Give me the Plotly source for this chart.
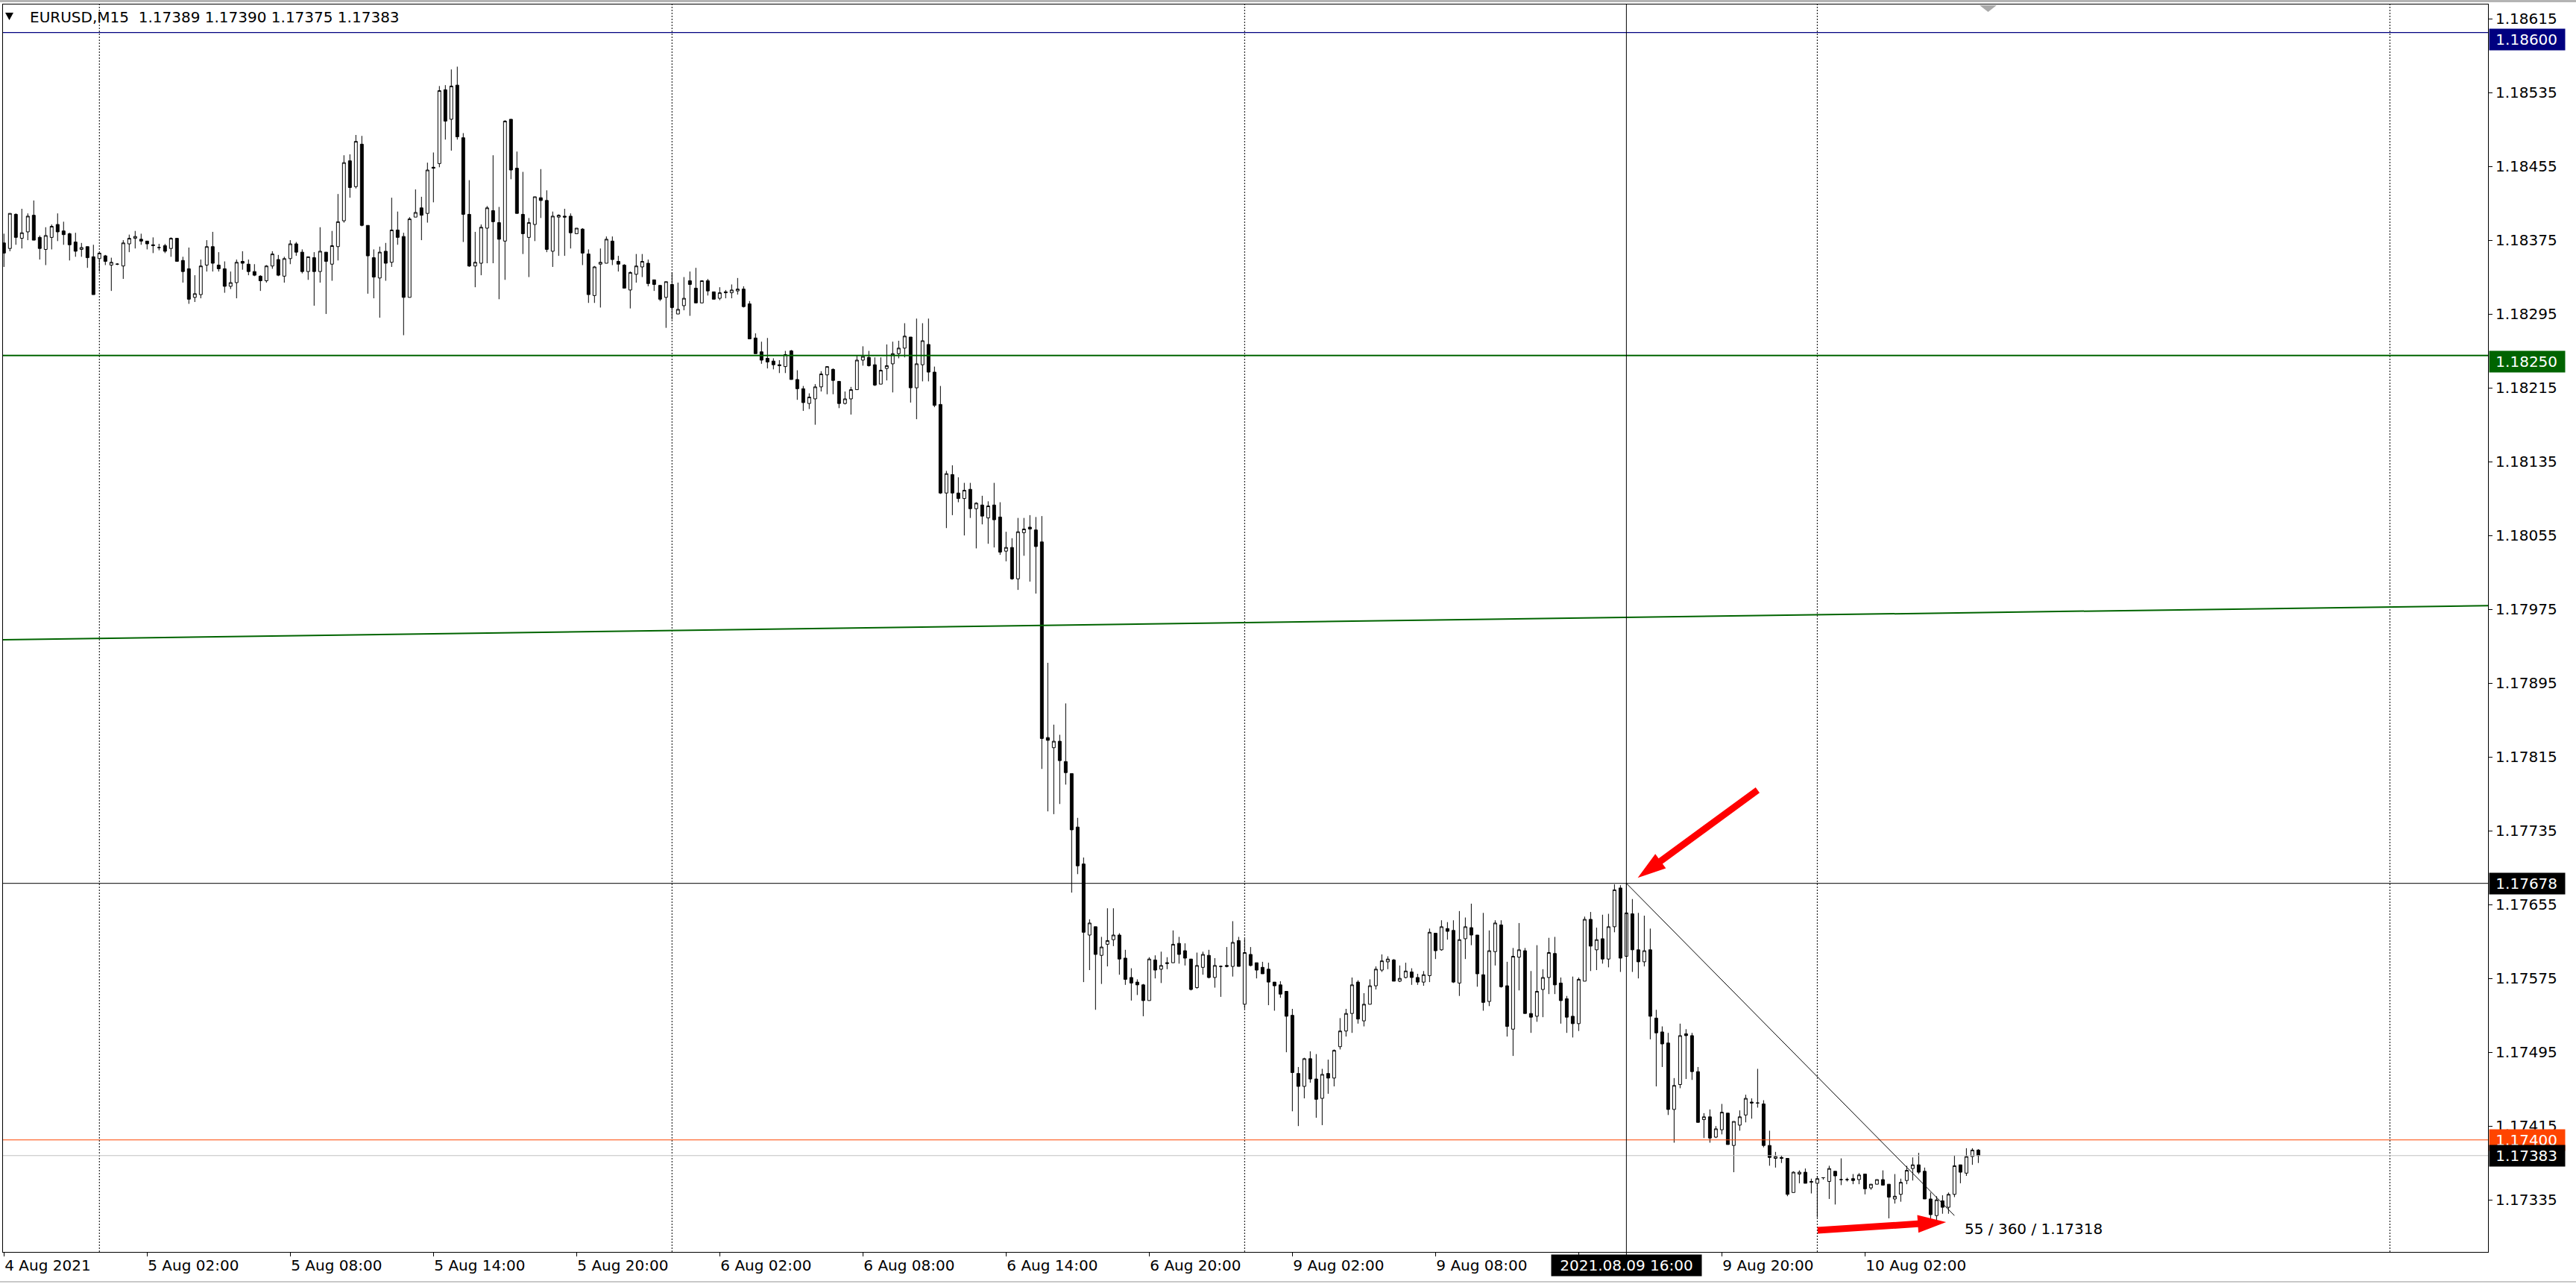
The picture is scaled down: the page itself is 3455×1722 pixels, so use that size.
import math
import plotly.graph_objects as go

# ------------------------------------------------------------------ data
# EURUSD M15 bars, 4 Aug 2021 20:00 .. 10 Aug 2021 06:45 (weekend removed)
opens = [
    1.18372, 1.18366, 1.18403, 1.18377, 1.18384, 1.18402, 1.18378, 1.18365, 1.18378, 1.18392, 1.18385, 1.18382, 1.18373, 1.18365, 1.18368, 1.18357,
    1.18355, 1.18358, 1.18348, 1.18349, 1.18347, 1.18371, 1.18377, 1.18376, 1.18374, 1.18370, 1.18367, 1.18369, 1.18366, 1.18377, 1.18353, 1.18344,
    1.18313, 1.18316, 1.18348, 1.18368, 1.18348, 1.18344, 1.18325, 1.18329, 1.18352, 1.18349, 1.18341, 1.18336, 1.18331, 1.18347, 1.18354, 1.18336,
    1.18355, 1.18371, 1.18362, 1.18341, 1.18356, 1.18341, 1.18362, 1.18349, 1.18368, 1.18396, 1.18461, 1.18433, 1.18479, 1.18391, 1.18356, 1.18334,
    1.18363, 1.18351, 1.18386, 1.18379, 1.18313, 1.18400, 1.18410, 1.18404, 1.18454, 1.18458, 1.18538, 1.18506, 1.18543, 1.18486, 1.18403, 1.18347,
    1.18350, 1.18388, 1.18407, 1.18394, 1.18374, 1.18506, 1.18453, 1.18403, 1.18378, 1.18392, 1.18421, 1.18418, 1.18363, 1.18400, 1.18401, 1.18401,
    1.18382, 1.18387, 1.18360, 1.18315, 1.18349, 1.18350, 1.18374, 1.18352, 1.18348, 1.18321, 1.18338, 1.18346, 1.18350, 1.18332, 1.18326, 1.18313,
    1.18327, 1.18295, 1.18304, 1.18331, 1.18323, 1.18307, 1.18331, 1.18319, 1.18312, 1.18319, 1.18318, 1.18320, 1.18322, 1.18306, 1.18269, 1.18254,
    1.18247, 1.18244, 1.18240, 1.18238, 1.18255, 1.18224, 1.18214, 1.18198, 1.18203, 1.18216, 1.18229, 1.18235, 1.18222, 1.18198, 1.18203, 1.18213,
    1.18245, 1.18248, 1.18240, 1.18219, 1.18236, 1.18241, 1.18252, 1.18258, 1.18270, 1.18215, 1.18240, 1.18262, 1.18232, 1.18197, 1.18101, 1.18121,
    1.18101, 1.18095, 1.18105, 1.18084, 1.18088, 1.18074, 1.18088, 1.18075, 1.18038, 1.18042, 1.18008, 1.18058, 1.18064, 1.18061, 1.18048, 1.17836,
    1.17825, 1.17832, 1.17810, 1.17797, 1.17739, 1.17699, 1.17622, 1.17631, 1.17600, 1.17612, 1.17617, 1.17622, 1.17597, 1.17576, 1.17571, 1.17568,
    1.17551, 1.17595, 1.17585, 1.17591, 1.17592, 1.17613, 1.17605, 1.17596, 1.17565, 1.17587, 1.17600, 1.17576, 1.17588, 1.17589, 1.17588, 1.17616,
    1.17547, 1.17601, 1.17592, 1.17587, 1.17585, 1.17571, 1.17568, 1.17561, 1.17535, 1.17472, 1.17458, 1.17488, 1.17466, 1.17445, 1.17472, 1.17467,
    1.17501, 1.17518, 1.17537, 1.17571, 1.17529, 1.17547, 1.17567, 1.17584, 1.17593, 1.17595, 1.17572, 1.17576, 1.17582, 1.17576, 1.17571, 1.17578,
    1.17624, 1.17606, 1.17629, 1.17627, 1.17570, 1.17618, 1.17630, 1.17622, 1.17579, 1.17550, 1.17604, 1.17633, 1.17567, 1.17520, 1.17598, 1.17605,
    1.17537, 1.17534, 1.17563, 1.17576, 1.17602, 1.17570, 1.17553, 1.17534, 1.17526, 1.17572, 1.17639, 1.17606, 1.17618, 1.17596, 1.17631, 1.17673,
    1.17599, 1.17645, 1.17606, 1.17593, 1.17606, 1.17532, 1.17517, 1.17505, 1.17433, 1.17460, 1.17515, 1.17513, 1.17474, 1.17422, 1.17425, 1.17403,
    1.17411, 1.17429, 1.17394, 1.17416, 1.17427, 1.17441, 1.17440, 1.17439, 1.17394, 1.17380, 1.17381, 1.17380, 1.17343, 1.17363, 1.17365, 1.17354,
    1.17353, 1.17359, 1.17355, 1.17366, 1.17357, 1.17357, 1.17358, 1.17357, 1.17363, 1.17348, 1.17352, 1.17357, 1.17352, 1.17336, 1.17341, 1.17356,
    1.17369, 1.17373, 1.17366, 1.17336, 1.17318, 1.17334, 1.17327, 1.17341, 1.17373, 1.17364, 1.17382, 1.17389,
]
highs = [
    1.18382, 1.18404, 1.18404, 1.18409, 1.18404, 1.18418, 1.18380, 1.18389, 1.18392, 1.18404, 1.18395, 1.18383, 1.18383, 1.18372, 1.18368, 1.18370,
    1.18361, 1.18359, 1.18356, 1.18350, 1.18375, 1.18381, 1.18385, 1.18382, 1.18374, 1.18378, 1.18371, 1.18371, 1.18378, 1.18377, 1.18357, 1.18367,
    1.18337, 1.18354, 1.18375, 1.18384, 1.18362, 1.18352, 1.18341, 1.18354, 1.18363, 1.18354, 1.18349, 1.18337, 1.18348, 1.18363, 1.18359, 1.18357,
    1.18375, 1.18373, 1.18365, 1.18357, 1.18362, 1.18389, 1.18362, 1.18385, 1.18425, 1.18467, 1.18468, 1.18489, 1.18488, 1.18391, 1.18365, 1.18368,
    1.18372, 1.18421, 1.18406, 1.18383, 1.18400, 1.18430, 1.18422, 1.18459, 1.18470, 1.18542, 1.18543, 1.18560, 1.18563, 1.18491, 1.18440, 1.18384,
    1.18392, 1.18412, 1.18467, 1.18411, 1.18505, 1.18506, 1.18471, 1.18449, 1.18399, 1.18422, 1.18452, 1.18429, 1.18406, 1.18403, 1.18409, 1.18404,
    1.18388, 1.18388, 1.18365, 1.18347, 1.18366, 1.18379, 1.18379, 1.18358, 1.18349, 1.18341, 1.18360, 1.18360, 1.18354, 1.18332, 1.18326, 1.18330,
    1.18340, 1.18329, 1.18335, 1.18341, 1.18345, 1.18331, 1.18333, 1.18319, 1.18324, 1.18321, 1.18327, 1.18334, 1.18325, 1.18309, 1.18274, 1.18265,
    1.18269, 1.18247, 1.18245, 1.18255, 1.18256, 1.18234, 1.18217, 1.18209, 1.18219, 1.18233, 1.18238, 1.18236, 1.18222, 1.18211, 1.18216, 1.18250,
    1.18260, 1.18255, 1.18248, 1.18248, 1.18262, 1.18265, 1.18266, 1.18285, 1.18270, 1.18290, 1.18285, 1.18290, 1.18238, 1.18217, 1.18125, 1.18131,
    1.18118, 1.18112, 1.18112, 1.18091, 1.18098, 1.18092, 1.18112, 1.18091, 1.18059, 1.18052, 1.18074, 1.18074, 1.18077, 1.18075, 1.18076, 1.17917,
    1.17850, 1.17839, 1.17873, 1.17797, 1.17749, 1.17706, 1.17639, 1.17631, 1.17620, 1.17651, 1.17651, 1.17624, 1.17606, 1.17586, 1.17574, 1.17569,
    1.17598, 1.17600, 1.17604, 1.17598, 1.17627, 1.17620, 1.17613, 1.17596, 1.17603, 1.17604, 1.17606, 1.17597, 1.17589, 1.17609, 1.17637, 1.17620,
    1.17618, 1.17609, 1.17592, 1.17593, 1.17592, 1.17571, 1.17572, 1.17561, 1.17542, 1.17479, 1.17489, 1.17496, 1.17493, 1.17477, 1.17487, 1.17498,
    1.17532, 1.17542, 1.17576, 1.17573, 1.17559, 1.17574, 1.17588, 1.17601, 1.17599, 1.17596, 1.17589, 1.17592, 1.17586, 1.17580, 1.17583, 1.17629,
    1.17624, 1.17638, 1.17636, 1.17638, 1.17648, 1.17641, 1.17656, 1.17622, 1.17646, 1.17627, 1.17638, 1.17638, 1.17593, 1.17608, 1.17635, 1.17608,
    1.17583, 1.17611, 1.17585, 1.17619, 1.17620, 1.17576, 1.17556, 1.17577, 1.17576, 1.17642, 1.17647, 1.17630, 1.17644, 1.17645, 1.17677, 1.17676,
    1.17678, 1.17661, 1.17646, 1.17643, 1.17629, 1.17541, 1.17523, 1.17516, 1.17467, 1.17526, 1.17520, 1.17516, 1.17479, 1.17429, 1.17433, 1.17415,
    1.17439, 1.17429, 1.17420, 1.17432, 1.17449, 1.17445, 1.17477, 1.17443, 1.17410, 1.17387, 1.17383, 1.17380, 1.17366, 1.17367, 1.17369, 1.17358,
    1.17361, 1.17359, 1.17372, 1.17366, 1.17380, 1.17359, 1.17363, 1.17364, 1.17363, 1.17352, 1.17357, 1.17367, 1.17352, 1.17363, 1.17358, 1.17372,
    1.17381, 1.17386, 1.17370, 1.17343, 1.17339, 1.17340, 1.17343, 1.17383, 1.17373, 1.17391, 1.17391, 1.17390,
]
lows = [
    1.18346, 1.18363, 1.18370, 1.18366, 1.18375, 1.18375, 1.18354, 1.18348, 1.18365, 1.18374, 1.18370, 1.18353, 1.18357, 1.18357, 1.18345, 1.18316,
    1.18341, 1.18348, 1.18320, 1.18348, 1.18333, 1.18362, 1.18366, 1.18370, 1.18365, 1.18361, 1.18364, 1.18361, 1.18357, 1.18352, 1.18329, 1.18306,
    1.18308, 1.18312, 1.18341, 1.18341, 1.18341, 1.18318, 1.18322, 1.18312, 1.18343, 1.18337, 1.18336, 1.18320, 1.18329, 1.18344, 1.18336, 1.18329,
    1.18349, 1.18358, 1.18339, 1.18332, 1.18304, 1.18329, 1.18295, 1.18331, 1.18353, 1.18394, 1.18421, 1.18431, 1.18390, 1.18317, 1.18312, 1.18291,
    1.18331, 1.18346, 1.18370, 1.18272, 1.18313, 1.18400, 1.18375, 1.18394, 1.18416, 1.18454, 1.18484, 1.18472, 1.18484, 1.18373, 1.18346, 1.18324,
    1.18337, 1.18350, 1.18350, 1.18311, 1.18332, 1.18441, 1.18404, 1.18360, 1.18335, 1.18374, 1.18399, 1.18362, 1.18346, 1.18358, 1.18358, 1.18366,
    1.18382, 1.18348, 1.18307, 1.18307, 1.18302, 1.18350, 1.18348, 1.18341, 1.18323, 1.18301, 1.18329, 1.18335, 1.18325, 1.18320, 1.18309, 1.18280,
    1.18289, 1.18295, 1.18299, 1.18293, 1.18307, 1.18307, 1.18315, 1.18311, 1.18310, 1.18312, 1.18312, 1.18316, 1.18302, 1.18268, 1.18252, 1.18241,
    1.18236, 1.18235, 1.18231, 1.18231, 1.18224, 1.18202, 1.18190, 1.18192, 1.18175, 1.18211, 1.18208, 1.18208, 1.18193, 1.18197, 1.18186, 1.18213,
    1.18239, 1.18238, 1.18217, 1.18219, 1.18223, 1.18210, 1.18247, 1.18248, 1.18199, 1.18181, 1.18222, 1.18222, 1.18194, 1.18100, 1.18063, 1.18077,
    1.18091, 1.18055, 1.18074, 1.18041, 1.18067, 1.18046, 1.18042, 1.18034, 1.18027, 1.18007, 1.17996, 1.18033, 1.18005, 1.17992, 1.17802, 1.17756,
    1.17753, 1.17764, 1.17785, 1.17668, 1.17688, 1.17571, 1.17584, 1.17541, 1.17569, 1.17588, 1.17610, 1.17579, 1.17568, 1.17551, 1.17557, 1.17534,
    1.17551, 1.17575, 1.17570, 1.17585, 1.17592, 1.17591, 1.17589, 1.17562, 1.17564, 1.17579, 1.17575, 1.17565, 1.17555, 1.17587, 1.17577, 1.17588,
    1.17542, 1.17588, 1.17575, 1.17580, 1.17546, 1.17540, 1.17554, 1.17495, 1.17431, 1.17415, 1.17445, 1.17462, 1.17424, 1.17416, 1.17450, 1.17458,
    1.17498, 1.17512, 1.17516, 1.17526, 1.17523, 1.17547, 1.17563, 1.17582, 1.17585, 1.17572, 1.17571, 1.17575, 1.17568, 1.17568, 1.17567, 1.17571,
    1.17596, 1.17605, 1.17617, 1.17570, 1.17556, 1.17596, 1.17611, 1.17566, 1.17540, 1.17545, 1.17589, 1.17565, 1.17512, 1.17491, 1.17562, 1.17537,
    1.17516, 1.17528, 1.17533, 1.17558, 1.17558, 1.17526, 1.17516, 1.17511, 1.17518, 1.17572, 1.17583, 1.17584, 1.17591, 1.17587, 1.17625, 1.17582,
    1.17599, 1.17582, 1.17575, 1.17588, 1.17509, 1.17458, 1.17479, 1.17427, 1.17397, 1.17456, 1.17466, 1.17465, 1.17419, 1.17402, 1.17397, 1.17402,
    1.17406, 1.17395, 1.17365, 1.17410, 1.17419, 1.17423, 1.17435, 1.17392, 1.17372, 1.17370, 1.17375, 1.17339, 1.17343, 1.17353, 1.17353, 1.17342,
    1.17316, 1.17357, 1.17336, 1.17330, 1.17351, 1.17355, 1.17352, 1.17352, 1.17341, 1.17346, 1.17352, 1.17351, 1.17315, 1.17331, 1.17333, 1.17352,
    1.17356, 1.17363, 1.17336, 1.17315, 1.17313, 1.17320, 1.17320, 1.17338, 1.17353, 1.17361, 1.17373, 1.17375,
]
closes = [
    1.18361, 1.18404, 1.18378, 1.18383, 1.18401, 1.18375, 1.18366, 1.18380, 1.18390, 1.18384, 1.18381, 1.18370, 1.18363, 1.18367, 1.18356, 1.18316,
    1.18361, 1.18352, 1.18351, 1.18349, 1.18372, 1.18377, 1.18379, 1.18374, 1.18371, 1.18369, 1.18367, 1.18363, 1.18377, 1.18352, 1.18341, 1.18311,
    1.18317, 1.18347, 1.18368, 1.18350, 1.18344, 1.18325, 1.18329, 1.18351, 1.18350, 1.18341, 1.18337, 1.18331, 1.18347, 1.18360, 1.18337, 1.18355,
    1.18371, 1.18362, 1.18341, 1.18357, 1.18341, 1.18363, 1.18352, 1.18369, 1.18395, 1.18459, 1.18432, 1.18482, 1.18391, 1.18358, 1.18335, 1.18362,
    1.18350, 1.18386, 1.18378, 1.18313, 1.18398, 1.18405, 1.18402, 1.18451, 1.18453, 1.18537, 1.18504, 1.18542, 1.18487, 1.18403, 1.18347, 1.18351,
    1.18389, 1.18410, 1.18395, 1.18376, 1.18504, 1.18451, 1.18404, 1.18382, 1.18394, 1.18422, 1.18418, 1.18365, 1.18401, 1.18402, 1.18400, 1.18383,
    1.18388, 1.18361, 1.18316, 1.18346, 1.18351, 1.18376, 1.18354, 1.18349, 1.18323, 1.18340, 1.18347, 1.18352, 1.18328, 1.18327, 1.18311, 1.18330,
    1.18302, 1.18300, 1.18312, 1.18327, 1.18307, 1.18331, 1.18320, 1.18311, 1.18318, 1.18318, 1.18321, 1.18322, 1.18303, 1.18268, 1.18252, 1.18245,
    1.18243, 1.18240, 1.18239, 1.18251, 1.18224, 1.18214, 1.18199, 1.18205, 1.18216, 1.18230, 1.18238, 1.18223, 1.18198, 1.18203, 1.18213, 1.18245,
    1.18249, 1.18239, 1.18218, 1.18234, 1.18239, 1.18252, 1.18258, 1.18271, 1.18215, 1.18241, 1.18266, 1.18232, 1.18196, 1.18101, 1.18122, 1.18101,
    1.18095, 1.18104, 1.18084, 1.18090, 1.18076, 1.18087, 1.18072, 1.18037, 1.18042, 1.18008, 1.18059, 1.18062, 1.18062, 1.18043, 1.17835, 1.17833,
    1.17832, 1.17811, 1.17798, 1.17736, 1.17697, 1.17625, 1.17635, 1.17601, 1.17609, 1.17616, 1.17622, 1.17596, 1.17574, 1.17570, 1.17568, 1.17551,
    1.17596, 1.17584, 1.17589, 1.17592, 1.17612, 1.17601, 1.17597, 1.17563, 1.17589, 1.17601, 1.17576, 1.17589, 1.17588, 1.17588, 1.17614, 1.17588,
    1.17603, 1.17589, 1.17584, 1.17580, 1.17571, 1.17567, 1.17558, 1.17534, 1.17473, 1.17458, 1.17488, 1.17466, 1.17444, 1.17471, 1.17467, 1.17497,
    1.17518, 1.17537, 1.17568, 1.17531, 1.17547, 1.17567, 1.17585, 1.17594, 1.17596, 1.17572, 1.17575, 1.17583, 1.17576, 1.17571, 1.17579, 1.17625,
    1.17605, 1.17631, 1.17626, 1.17571, 1.17617, 1.17631, 1.17622, 1.17580, 1.17549, 1.17605, 1.17635, 1.17566, 1.17523, 1.17599, 1.17606, 1.17537,
    1.17533, 1.17561, 1.17576, 1.17603, 1.17568, 1.17551, 1.17533, 1.17526, 1.17574, 1.17639, 1.17610, 1.17617, 1.17596, 1.17631, 1.17671, 1.17597,
    1.17646, 1.17606, 1.17593, 1.17605, 1.17534, 1.17516, 1.17504, 1.17433, 1.17459, 1.17513, 1.17513, 1.17474, 1.17419, 1.17425, 1.17402, 1.17412,
    1.17430, 1.17395, 1.17420, 1.17425, 1.17445, 1.17440, 1.17440, 1.17394, 1.17381, 1.17382, 1.17380, 1.17341, 1.17365, 1.17365, 1.17353, 1.17355,
    1.17358, 1.17359, 1.17369, 1.17361, 1.17357, 1.17357, 1.17356, 1.17362, 1.17347, 1.17352, 1.17357, 1.17351, 1.17338, 1.17339, 1.17354, 1.17367,
    1.17373, 1.17365, 1.17336, 1.17319, 1.17335, 1.17327, 1.17341, 1.17372, 1.17365, 1.17382, 1.17389, 1.17383,
]
bar_no = list(range(len(opens)))   # bar sequence number (weekend gap removed, like MT4)

x_tick_pos = [0, 24, 48, 72, 96, 120, 144, 168, 192, 216, 240, 264, 288, 312]
x_tick_text = ["4 Aug 2021", "5 Aug 02:00", "5 Aug 08:00", "5 Aug 14:00", "5 Aug 20:00",
               "6 Aug 02:00", "6 Aug 08:00", "6 Aug 14:00", "6 Aug 20:00",
               "9 Aug 02:00", "9 Aug 08:00", "", "9 Aug 20:00", "10 Aug 02:00"]
y_tick_vals = [1.18615, 1.18535, 1.18455, 1.18375, 1.18295, 1.18215, 1.18135, 1.18055,
               1.17975, 1.17895, 1.17815, 1.17735, 1.17655, 1.17575, 1.17495, 1.17415, 1.17335]
day_separators = [16, 112, 208, 304, 400]

level_navy = 1.18600
level_green = 1.18250
level_red = 1.17400
bid_price = 1.17383
cross_bar, cross_price = 272, 1.17678
cross_label = "2021.08.09 16:00"
trend_start, trend_end = (-0.3, 1.17942), (416.5, 1.17979)
ruler_start, ruler_end = (272, 1.17678), (327, 1.17318)
ruler_text = "55 / 360 / 1.17318"
ruler_text_pos = (328.5, 1.17304)
arrow1 = ((294.0, 1.17779), (273.9, 1.17684))
arrow2 = ((304.05, 1.17302), (325.6, 1.17311))
title_text = "EURUSD,M15\u00a0 1.17389 1.17390 1.17375 1.17383"

# ------------------------------------------------------------------ geometry
W, H = 3455, 1722
ML, MR, MT, MB = 4, 118, 6, 43
PW, PH = W - ML - MR, H - MT - MB
X0, X1 = -0.16, 416.45
Y0, Y1 = 1.172786, 1.186304
FONT = "DejaVu Sans"


def pxx(px):
    return (px - ML) / PW


def pxy(py):
    return 1 - (py - MT) / PH


def data_to_px(xv, yv):
    return ML + (xv - X0) / (X1 - X0) * PW, MT + (Y1 - yv) / (Y1 - Y0) * PH


def px_to_data(px, py):
    return X0 + (px - ML) / PW * (X1 - X0), Y1 - (py - MT) / PH * (Y1 - Y0)


def arrow_path(tail, tip, shaft=4.5, head_len=38, head_half=12):
    tx, ty = data_to_px(*tail)
    hx, hy = data_to_px(*tip)
    dx, dy = hx - tx, hy - ty
    ln = math.hypot(dx, dy)
    ux, uy = dx / ln, dy / ln
    nx, ny = -uy, ux
    bx, by = hx - ux * head_len, hy - uy * head_len
    pts = [(tx + nx * shaft, ty + ny * shaft), (bx + nx * shaft, by + ny * shaft),
           (bx + nx * head_half, by + ny * head_half), (hx, hy),
           (bx - nx * head_half, by - ny * head_half), (bx - nx * shaft, by - ny * shaft),
           (tx - nx * shaft, ty - ny * shaft)]
    d = [px_to_data(*p) for p in pts]
    return "M " + " L ".join(f"{a},{b}" for a, b in d) + " Z"


fig = go.Figure()
fig.add_trace(go.Candlestick(
    x=bar_no, open=opens, high=highs, low=lows, close=closes,
    increasing=dict(line=dict(color="black", width=1), fillcolor="white"),
    decreasing=dict(line=dict(color="black", width=1), fillcolor="black"),
    whiskerwidth=0, hoverinfo="skip", showlegend=False,
))

shapes = []
# day separators
for s in day_separators:
    shapes.append(dict(type="line", xref="x", yref="paper", x0=s, x1=s, y0=0, y1=1,
                       line=dict(color="black", width=1, dash="2px,2px"), layer="below"))
# horizontal levels
shapes.append(dict(type="line", xref="paper", yref="y", x0=0, x1=1, y0=level_navy, y1=level_navy,
                   line=dict(color="#000080", width=1.3)))
shapes.append(dict(type="line", xref="paper", yref="y", x0=0, x1=1, y0=level_green, y1=level_green,
                   line=dict(color="#006400", width=2)))
shapes.append(dict(type="line", xref="x", yref="y", x0=trend_start[0], x1=trend_end[0],
                   y0=trend_start[1], y1=trend_end[1], line=dict(color="#006400", width=2)))
shapes.append(dict(type="line", xref="paper", yref="y", x0=0, x1=1, y0=level_red, y1=level_red,
                   line=dict(color="#FF4500", width=1)))
shapes.append(dict(type="line", xref="paper", yref="y", x0=0, x1=1, y0=bid_price, y1=bid_price,
                   line=dict(color="#C0C0C0", width=1)))
# crosshair
shapes.append(dict(type="line", xref="paper", yref="y", x0=0, x1=1, y0=cross_price, y1=cross_price,
                   line=dict(color="black", width=1)))
shapes.append(dict(type="line", xref="x", yref="paper", x0=cross_bar, x1=cross_bar, y0=pxy(1683), y1=1,
                   line=dict(color="black", width=1)))
# ruler line
shapes.append(dict(type="line", xref="x", yref="y", x0=ruler_start[0], x1=ruler_end[0],
                   y0=ruler_start[1], y1=ruler_end[1], line=dict(color="black", width=1)))
# red arrows
for a in (arrow1, arrow2):
    shapes.append(dict(type="path", xref="x", yref="y", path=arrow_path(*a),
                       fillcolor="#FF0000", line=dict(width=0)))
# window chrome
shapes.append(dict(type="rect", xref="paper", yref="paper", x0=pxx(0), x1=pxx(W), y0=pxy(3), y1=pxy(0),
                   fillcolor="#B4B4B4", line=dict(width=0)))
shapes.append(dict(type="path", xref="paper", yref="paper",
                   path=f"M {pxx(2655)},{pxy(7)} L {pxx(2678)},{pxy(7)} L {pxx(2666.5)},{pxy(16)} Z",
                   fillcolor="#A9A9A9", line=dict(width=0)))
shapes.append(dict(type="path", xref="paper", yref="paper",
                   path=f"M {pxx(7)},{pxy(17)} L {pxx(18)},{pxy(17)} L {pxx(12.5)},{pxy(27)} Z",
                   fillcolor="black", line=dict(width=0)))
shapes.append(dict(type="line", xref="paper", yref="paper", x0=pxx(0), x1=pxx(W), y0=pxy(1719), y1=pxy(1719),
                   line=dict(color="#C8C8C8", width=2)))


def price_tag(price, text, bg, shift=0):
    return dict(xref="paper", x=1, xanchor="left", xshift=1, yref="y", y=price, yanchor="middle",
                yshift=shift, text="\u00a0" + text, showarrow=False, bgcolor=bg,
                font=dict(color="white", family=FONT, size=20), width=97, height=24,
                borderpad=2, align="left")


annotations = [
    price_tag(level_navy, f"{level_navy:.5f}", "#000080", -9),
    price_tag(level_green, f"{level_green:.5f}", "#006400", -8),
    price_tag(level_red, f"{level_red:.5f}", "#FF4500"),
    price_tag(cross_price, f"{cross_price:.5f}", "black"),
    price_tag(bid_price, f"{bid_price:.5f}", "black"),
    dict(xref="x", x=cross_bar, xanchor="center", yref="paper", y=pxy(1697), yanchor="middle",
         text=cross_label, showarrow=False, bgcolor="black", font=dict(color="white", family=FONT, size=20),
         width=197, height=24, borderpad=2),
    dict(xref="x", x=ruler_text_pos[0], xanchor="left", yref="y", y=ruler_text_pos[1], yanchor="middle",
         text=ruler_text, showarrow=False, font=dict(color="black", family=FONT, size=20)),
    dict(xref="paper", x=pxx(38), xanchor="left", yref="paper", y=pxy(23), yanchor="middle",
         text=title_text, showarrow=False, font=dict(color="black", family=FONT, size=20)),
]

fig.update_layout(
    width=W, height=H, autosize=False,
    margin=dict(l=ML, r=MR, t=MT, b=MB, pad=0),
    paper_bgcolor="white", plot_bgcolor="white",
    showlegend=False, hovermode=False,
    shapes=shapes, annotations=annotations,
    font=dict(family=FONT, size=20, color="black"),
    xaxis=dict(range=[X0, X1], rangeslider=dict(visible=False), showgrid=False, zeroline=False,
               showline=True, linecolor="black", linewidth=1, mirror=True,
               tickmode="array", tickvals=x_tick_pos, ticktext=x_tick_text,
               ticks="outside", ticklen=5, tickcolor="black", tickwidth=1,
               ticklabelposition="outside right",
               tickfont=dict(family=FONT, size=20, color="black")),
    yaxis=dict(range=[Y0, Y1], side="right", showgrid=False, zeroline=False,
               showline=True, linecolor="black", linewidth=1, mirror=True,
               tickmode="array", tickvals=y_tick_vals, tickformat=".5f",
               ticks="outside", ticklen=5, tickcolor="black", tickwidth=1,
               tickfont=dict(family=FONT, size=20, color="black")),
)

fig.write_html("out.html", config={"displayModeBar": False, "staticPlot": True},
               post_script="document.body.style.margin='0';document.body.style.overflow='hidden';")
